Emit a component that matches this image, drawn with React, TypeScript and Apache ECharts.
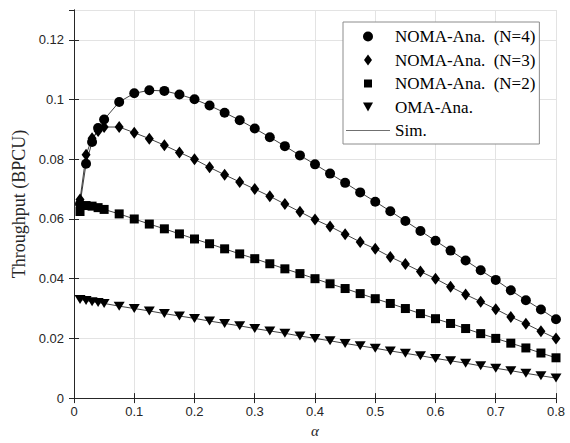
import React, { useEffect, useRef } from "react";
import * as echarts from "echarts";

const alpha = [0.01, 0.02, 0.03, 0.04, 0.05, 0.075, 0.1, 0.125, 0.15, 0.175, 0.2, 0.225, 0.25, 0.275, 0.3, 0.325, 0.35, 0.375, 0.4, 0.425, 0.45, 0.475, 0.5, 0.525, 0.55, 0.575, 0.6, 0.625, 0.65, 0.675, 0.7, 0.725, 0.75, 0.775, 0.8];

const noma4 = [0.065, 0.0785, 0.0858, 0.0905, 0.0933, 0.0992, 0.1021, 0.1031, 0.1029, 0.1017, 0.1001, 0.098, 0.0956, 0.0931, 0.0903, 0.0874, 0.0844, 0.0813, 0.0783, 0.0752, 0.0721, 0.0689, 0.0658, 0.0626, 0.0593, 0.056, 0.0527, 0.0494, 0.0461, 0.0428, 0.0396, 0.0361, 0.0328, 0.0297, 0.0264];

const noma3 = [0.0665, 0.0815, 0.087, 0.0895, 0.0908, 0.0908, 0.0889, 0.0869, 0.0847, 0.0823, 0.08, 0.0773, 0.0748, 0.0724, 0.07, 0.0676, 0.065, 0.0624, 0.0598, 0.0575, 0.0549, 0.0523, 0.05, 0.0473, 0.0449, 0.0424, 0.04, 0.0373, 0.0347, 0.0323, 0.0298, 0.0272, 0.0249, 0.0224, 0.02];

const noma2 = [0.0625, 0.0645, 0.0643, 0.0638, 0.0632, 0.0617, 0.06, 0.0583, 0.0567, 0.055, 0.0533, 0.0517, 0.05, 0.0483, 0.0467, 0.045, 0.0433, 0.0417, 0.04, 0.0383, 0.0367, 0.035, 0.0333, 0.0317, 0.03, 0.0283, 0.0266, 0.025, 0.0233, 0.0216, 0.02, 0.0184, 0.0168, 0.0151, 0.0135];

const oma = [0.033, 0.0327, 0.0323, 0.032, 0.0317, 0.0308, 0.03, 0.0292, 0.0283, 0.0275, 0.0267, 0.0258, 0.025, 0.0242, 0.0233, 0.0225, 0.0217, 0.0208, 0.02, 0.0192, 0.0183, 0.0175, 0.0167, 0.0158, 0.015, 0.0142, 0.0133, 0.0125, 0.0117, 0.0108, 0.01, 0.0092, 0.0083, 0.0075, 0.0067];

const seriesNames = ["NOMA-Ana.  (N=4)", "NOMA-Ana.  (N=3)", "NOMA-Ana.  (N=2)", "OMA-Ana."];
const simName = "Sim.";

const CIRCLE = "path://M10,5A5,5 0 1 1 0,5A5,5 0 1 1 10,5Z";
const DIAMOND = "path://M4.5,0L9,6L4.5,12L0,6Z";
const SQUARE = "path://M0,0L10,0L10,10L0,10Z";
const TRI_DOWN = "path://M0,0L11,0L5.5,9Z";

const LEG_CIRCLE = "path://M0,0L0,0M11,11L11,11M10.5,5.5A5,5 0 1 1 0.5,5.5A5,5 0 1 1 10.5,5.5Z";
const LEG_DIAMOND = "path://M0,0L0,0M11,11L11,11M5.5,0L9.5,5.5L5.5,11L1.5,5.5Z";
const LEG_SQUARE = "path://M0,0L0,0M11,11L11,11M1.5,1.5L9.5,1.5L9.5,9.5L1.5,9.5Z";
const LEG_TRI = "path://M0,0L0,0M11,11L11,11M0.5,1L10.5,1L5.5,10Z";
const LEG_LINE = "path://M0,0L0,0M44,11L44,11M0,5L44,5L44,6L0,6Z";

export default function App() {
  const ref = useRef<HTMLDivElement>(null);
  useEffect(() => {
    if (!ref.current) return;
    const chart = echarts.init(ref.current, null, { renderer: "svg" });
    const sets = [noma4, noma3, noma2, oma];
    const symbols = [CIRCLE, DIAMOND, SQUARE, TRI_DOWN];
    const sizes: any[] = [[10, 10], [9, 12], [9, 9], [11, 9]];
    const legIcons = [LEG_CIRCLE, LEG_DIAMOND, LEG_SQUARE, LEG_TRI];
    const pair = (ys: number[]) => alpha.map((a, i) => [a, ys[i]]);

    const lineSeries = sets.map((ys) => ({
      type: "line",
      name: simName,
      data: pair(ys),
      symbol: "none",
      showSymbol: false,
      lineStyle: { color: "#111", width: 0.8 },
      itemStyle: { color: "#111" },
      z: 2,
    }));
    const markerSeries = sets.map((ys, k) => ({
      type: "scatter",
      name: seriesNames[k],
      data: pair(ys),
      symbol: symbols[k],
      symbolSize: sizes[k],
      symbolKeepAspect: false,
      itemStyle: { color: "#000", opacity: 1 },
      z: 3,
    }));

    const tickFont = { fontFamily: "Liberation Sans", fontSize: 13, color: "#262626" };
    const serif = "Liberation Serif";
    chart.setOption({
      animation: false,
      backgroundColor: "#fff",
      grid: { left: 74, right: 14, top: 10, bottom: 43 },
      legend: {
        orient: "vertical",
        left: 343,
        top: 22,
        itemWidth: 44,
        itemHeight: 11,
        itemGap: 6.5,
        symbolKeepAspect: true,
        padding: [6, 4, 5, 3],
        borderColor: "#8c8c8c",
        borderWidth: 1,
        borderRadius: 0,
        backgroundColor: "#fff",
        textStyle: { fontFamily: serif, fontSize: 17, color: "#000", lineHeight: 14 },
        data: [
          { name: seriesNames[0], icon: legIcons[0] },
          { name: seriesNames[1], icon: legIcons[1] },
          { name: seriesNames[2], icon: legIcons[2] },
          { name: seriesNames[3], icon: legIcons[3] },
          { name: simName, icon: LEG_LINE, itemStyle: { color: "#707070" } },
        ],
      },
      xAxis: [
        {
          type: "value",
          min: 0,
          max: 0.8,
          interval: 0.1,
          name: "α",
          nameLocation: "middle",
          nameGap: 24,
          nameTextStyle: { fontFamily: serif, fontStyle: "italic", fontSize: 15, color: "#262626" },
          axisLine: { show: true, lineStyle: { color: "#262626", width: 1 } },
          axisTick: { show: true, inside: true, length: 5, lineStyle: { color: "#262626" } },
          axisLabel: { ...tickFont, margin: 7 },
          splitLine: { show: true, lineStyle: { color: "#e3e3e3", width: 1 } },
        },
        {
          type: "value",
          position: "top",
          min: 0,
          max: 0.8,
          interval: 0.1,
          axisLine: { show: true, lineStyle: { color: "#262626", width: 1 } },
          axisTick: { show: true, inside: true, length: 5, lineStyle: { color: "#262626" } },
          axisLabel: { show: false },
          splitLine: { show: false },
        },
      ],
      yAxis: [
        {
          type: "value",
          min: 0,
          max: 0.13,
          interval: 0.02,
          name: "Throughput (BPCU)",
          nameLocation: "middle",
          nameGap: 46,
          nameTextStyle: { fontFamily: serif, fontSize: 18, color: "#262626" },
          axisLine: { show: true, lineStyle: { color: "#262626", width: 1 } },
          axisTick: { show: true, inside: true, length: 5, lineStyle: { color: "#262626" } },
          axisLabel: { ...tickFont, margin: 10, showMaxLabel: false },
          splitLine: { show: true, lineStyle: { color: "#e3e3e3", width: 1 } },
        },
        {
          type: "value",
          position: "right",
          min: 0,
          max: 0.13,
          interval: 0.02,
          axisLine: { show: true, lineStyle: { color: "#262626", width: 1 } },
          axisTick: { show: true, inside: true, length: 5, lineStyle: { color: "#262626" } },
          axisLabel: { show: false },
          splitLine: { show: false },
        },
      ],
      series: [...lineSeries, ...markerSeries],
    });
    return () => chart.dispose();
  }, []);
  return <div ref={ref} style={{ position: "fixed", left: 0, top: 0, width: 570, height: 443 }} />;
}
